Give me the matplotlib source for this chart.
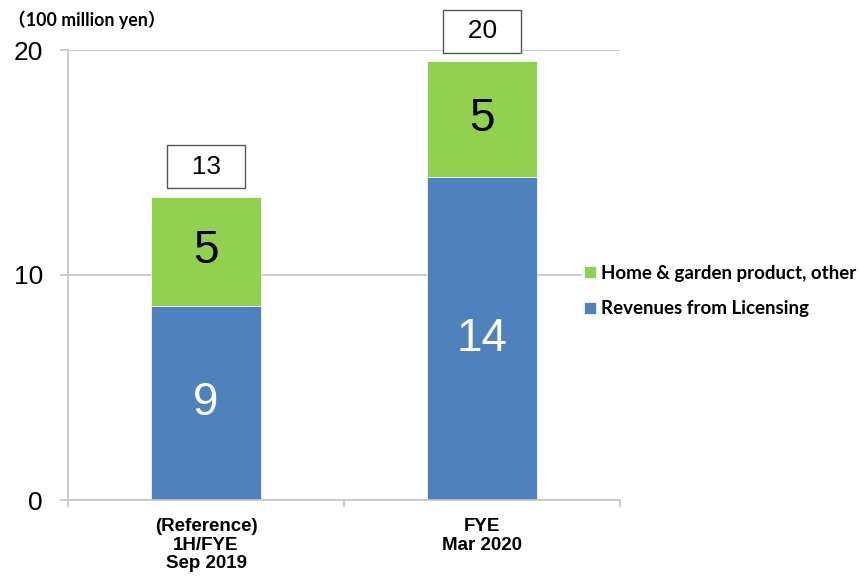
import matplotlib.pyplot as plt
import numpy as np

categories = ["(Reference)\n1H/FYE\nSep 2019", "FYE\nMar 2020"]
licensing = [8.64, 14.34]
home_garden = [4.84, 5.16]
licensing_labels = ["9", "14"]
home_labels = ["5", "5"]
total_labels = ["13", "20"]
series_names = ["Revenues from Licensing", "Home & garden product, other"]
y_ticks = [0, 10, 20]

BLUE = "#4F81BD"
GREEN = "#92D050"
GRID = "#C4C4C4"

fig = plt.figure(figsize=(8.63, 5.87), dpi=100)
ax = fig.add_axes([68 / 863, 87 / 587, 552 / 863, 450 / 587])

x = np.arange(len(categories))
b1 = ax.bar(x, licensing, width=0.4, color=BLUE, edgecolor="white", linewidth=0.5,
            label=series_names[0], zorder=2)
b2 = ax.bar(x, home_garden, width=0.4, bottom=licensing, color=GREEN, edgecolor="white",
            linewidth=0.5, label=series_names[1], zorder=2)

num_font = dict(family="Liberation Sans")
for i in range(len(x)):
    ax.text(x[i], licensing[i] / 2, licensing_labels[i], ha="center", va="center",
            fontsize=33, color="white", zorder=3, **num_font)
    ax.text(x[i], licensing[i] + home_garden[i] / 2, home_labels[i], ha="center",
            va="center", fontsize=33, color="black", zorder=3, **num_font)
    total = licensing[i] + home_garden[i]
    ax.annotate("  " + total_labels[i] + "  ", xy=(x[i], total), xytext=(0, 13),
                textcoords="offset points", ha="center", va="bottom", fontsize=19,
                zorder=3, bbox=dict(boxstyle="square,pad=0.36", fc="white", ec="#555555", lw=1),
                **num_font)

ax.set_xlim(-0.5, 1.5)
ax.set_ylim(0, 20)
ax.set_yticks(y_ticks)
ax.set_yticklabels([str(v) for v in y_ticks], fontsize=19, **num_font)
ax.yaxis.grid(True, color=GRID, linewidth=1.2, zorder=0)
ax.set_axisbelow(True)

ax.set_xticks([-0.5, 0.5, 1.5])
ax.set_xticklabels([])
ax.set_xticks(x, minor=True)
ax.set_xticklabels(categories, minor=True, fontsize=13.5, fontweight="bold",
                   family="Liberation Sans", linespacing=1.12)
ax.tick_params(axis="x", which="major", length=5, color=GRID, width=1.2)
ax.tick_params(axis="x", which="minor", length=0, pad=13)
ax.tick_params(axis="y", length=6, color=GRID, width=1.2, pad=12)

for s in ["top", "right"]:
    ax.spines[s].set_visible(False)
for s in ["left", "bottom"]:
    ax.spines[s].set_color(GRID)
    ax.spines[s].set_linewidth(1.2)

fig.text(8 / 863, 1 - 20 / 587, "（100 million yen）", fontsize=12.8, fontweight="bold",
         family=["Lato", "Noto Sans CJK JP"], va="center", ha="left")

leg = fig.legend([b2, b1], [series_names[1], series_names[0]], loc="center left",
                 bbox_to_anchor=(573 / 863, 0.504), frameon=True, facecolor="white",
                 edgecolor="none", framealpha=1, borderpad=0.1, handlelength=0.6,
                 handleheight=0.6, handletextpad=0.3, labelspacing=0.97,
                 prop=dict(family="Lato", weight="bold", size=13.5))
leg.get_frame().set_boxstyle("square", pad=0)

fig.savefig("out.png", dpi=100)
